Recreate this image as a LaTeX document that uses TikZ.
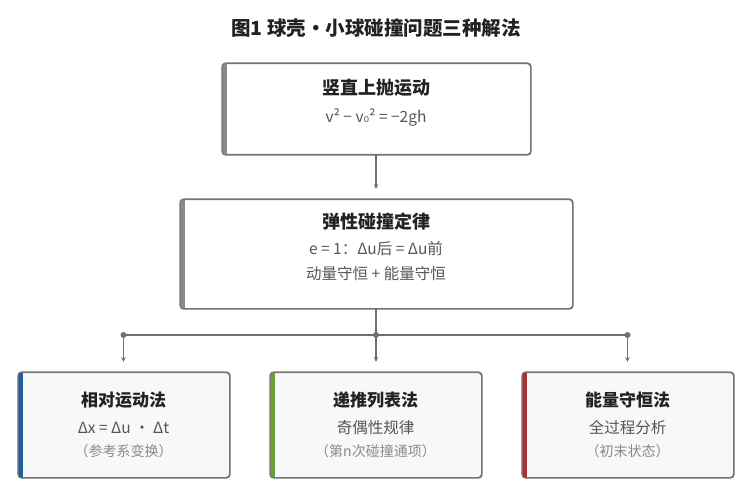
\documentclass[tikz,border=0pt]{standalone}
\usepackage{fontspec}
\setmainfont{Noto Sans CJK SC}
\newfontfamily\dejavu{DejaVu Sans}
\usetikzlibrary{arrows.meta}
\definecolor{bordergray}{HTML}{767676}
\definecolor{bargray}{HTML}{8A8A8A}
\definecolor{barblue}{HTML}{1F5F9F}
\definecolor{bargreen}{HTML}{6A9F3A}
\definecolor{barred}{HTML}{A83232}
\definecolor{txtdark}{HTML}{222222}
\definecolor{txtmid}{HTML}{555555}
\definecolor{txtlight}{HTML}{8A8A8A}
\definecolor{linegray}{HTML}{707070}
\definecolor{boxfill}{HTML}{F8F8F8}
\newcommand{\mybar}[2]{%
  \begin{scope}
    \clip[rounded corners=3.5pt] (#1.south west) rectangle (#1.north east);
    \fill[#2] (#1.south west) rectangle ([xshift=5pt]#1.north west);
  \end{scope}
  \draw[bordergray, line width=1.1pt, rounded corners=3.5pt] (#1.south west) rectangle (#1.north east);
}
\tikzset{
  box/.style={draw=bordergray, line width=1.1pt, rounded corners=3.5pt, inner sep=0pt, anchor=north west},
  headtxt/.style={font=\fontsize{18}{21}\selectfont\bfseries, text=txtdark, inner sep=0pt},
  headsm/.style={font=\fontsize{17}{20}\selectfont\bfseries, text=txtdark, inner sep=0pt},
  subtxt/.style={font=\fontsize{15.5}{18}\selectfont, text=txtmid, inner sep=0pt},
  notetxt/.style={font=\fontsize{14}{17}\selectfont, text=txtlight, inner sep=0pt},
  conn/.style={linegray, line width=1.1pt},
  arr/.style={conn, -{Stealth[length=5pt,width=4.5pt]}},
  dot/.style={circle, fill=linegray, inner sep=0pt, minimum size=6pt}
}
\begin{document}
\begin{tikzpicture}[x=1pt, y=-1pt]
\useasboundingbox (0,0) rectangle (747,497);
\node[font=\fontsize{19.5}{22}\selectfont\bfseries, text=txtdark, inner sep=0pt] (title) at (376,28) {图1 球壳・小球碰撞问题三种解法};

% top box
\node[box, fill=white, minimum width=308pt, minimum height=91pt] (top) at (222,63) {};
\mybar{top}{bargray}
\node[headtxt] (topH) at (376,88) {竖直上抛运动};
\node[subtxt] (topS) at (376,118) {v² − v{\dejavu\fontsize{14}{16}\selectfont ₀}² = −2gh};

% middle box
\node[box, fill=white, minimum width=392pt, minimum height=109pt] (mid) at (180,199) {};
\mybar{mid}{bargray}
\node[headtxt] (midH) at (376,222) {弹性碰撞定律};
\node[subtxt] (midS1) at (376,249) {e = 1：Δu后 = Δu前};
\node[subtxt] (midS2) at (376,274) {动量守恒 + 能量守恒};

% bottom boxes
\node[box, fill=boxfill, minimum width=211pt, minimum height=105pt] (b1) at (18,372) {};
\mybar{b1}{barblue}
\node[headsm] (b1H) at (123.5,400) {相对运动法};
\node[subtxt] (b1S) at (123.5,428) {Δx = Δu ・ Δt};
\node[notetxt] (b1N) at (123.5,451) {（参考系变换）};

\node[box, fill=boxfill, minimum width=211pt, minimum height=105pt] (b2) at (270,372) {};
\mybar{b2}{bargreen}
\node[headsm] (b2H) at (375.5,400) {递推列表法};
\node[subtxt] (b2S) at (375.5,428) {奇偶性规律};
\node[notetxt] (b2N) at (375.5,451) {（第n次碰撞通项）};

\node[box, fill=boxfill, minimum width=211pt, minimum height=105pt] (b3) at (522,372) {};
\mybar{b3}{barred}
\node[headsm] (b3H) at (627.5,400) {能量守恒法};
\node[subtxt] (b3S) at (627.5,428) {全过程分析};
\node[notetxt] (b3N) at (627.5,451) {（初末状态）};

% connectors
\coordinate (topEnd) at (376,189);
\draw[arr] (376,154) -- (topEnd);
\coordinate (jL) at (123.5,335);
\coordinate (jM) at (376,335);
\coordinate (jR) at (627.5,335);
\draw[conn] (376,308) -- (jM);
\draw[conn] (jL) -- (jR);
\node[dot] at (jL) {};
\node[dot] at (jM) {};
\node[dot] at (jR) {};
\draw[arr] (jL) -- ([yshift=10pt]b1.north -| jL);
\draw[arr] (jM) -- ([yshift=10pt]b2.north -| jM);
\draw[arr] (jR) -- ([yshift=10pt]b3.north -| jR);
\end{tikzpicture}
\end{document}
